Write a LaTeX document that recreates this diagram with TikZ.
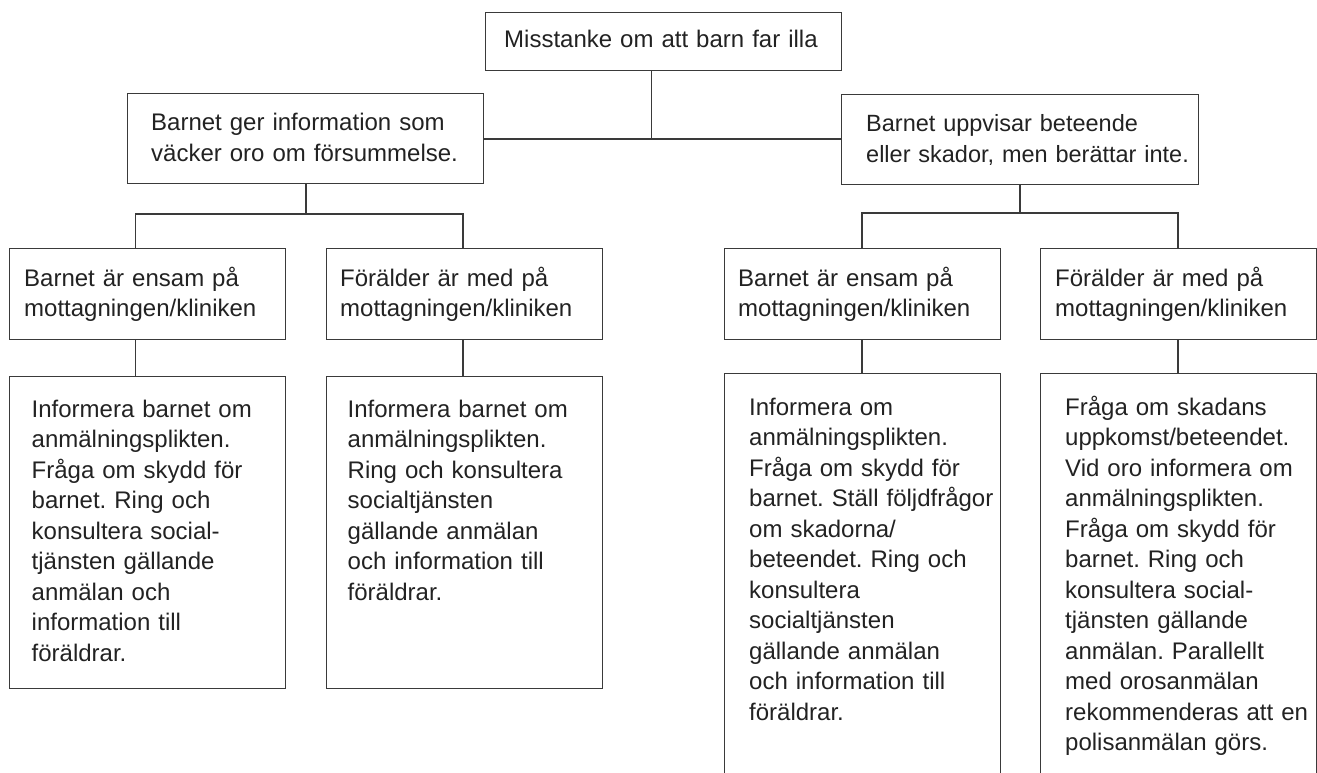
\documentclass[tikz,border=0pt]{standalone}
\usepackage{fontspec}
\setmainfont{Liberation Sans}
\definecolor{ln}{HTML}{3A3A3A}
\definecolor{tx}{HTML}{222222}
\begin{document}
\frenchspacing
\begin{tikzpicture}[x=1pt,y=-1pt,
  box/.style={draw=ln, line width=1.3pt, rectangle, inner sep=0pt, anchor=north west},
  txt/.style={text=tx, align=left, inner sep=0pt, anchor=base west},
  t32/.style={txt, font=\fontsize{24}{31.5}\selectfont\frenchspacing},
  t30/.style={txt, font=\fontsize{24}{29.5}\selectfont\frenchspacing},
  tb/.style={txt, font=\fontsize{24}{30.5}\selectfont\frenchspacing},
  link/.style={draw=ln, line width=1.3pt}]
\clip (0,0) rectangle (1317,772);
\path[use as bounding box] (0,0) rectangle (1317,772);
% boxes
\node[box, minimum width=356pt, minimum height=58pt] (top) at (485,12) {};
\node[box, minimum width=356pt, minimum height=90pt] (m1) at (127,93) {};
\node[box, minimum width=357pt, minimum height=90pt] (m2) at (841,94) {};
\node[box, minimum width=276pt, minimum height=91pt] (b1) at (9,248) {};
\node[box, minimum width=276pt, minimum height=91pt] (b2) at (326,248) {};
\node[box, minimum width=276.5pt, minimum height=91pt] (b3) at (723.5,248) {};
\node[box, minimum width=276pt, minimum height=91pt] (b4) at (1040,248) {};
\node[box, minimum width=276pt, minimum height=312pt] (c1) at (9,376) {};
\node[box, minimum width=276pt, minimum height=312pt] (c2) at (326,376) {};
\node[box, minimum width=276.5pt, minimum height=420pt] (c3) at (723.5,373) {};
\node[box, minimum width=276pt, minimum height=420pt] (c4) at (1040,373) {};
% texts
\node[t32, text width=330pt] (ttop) at (504,47.5) {Misstanke om att barn far illa};
\node[t32, text width=326pt] (tm1) at (151,130) {Barnet ger information som\\väcker oro om försummelse.};
\node[txt, font=\fontsize{23.5}{31.5}\selectfont\frenchspacing, text width=328pt] (tm2) at (866,131) {Barnet uppvisar beteende\\eller skador, men berättar inte.};
\node[t30, text width=258pt] (tb1) at (24,286.5) {Barnet är ensam på\\mottagningen/kliniken};
\node[t30, text width=258pt] (tb2) at (340,286.5) {Förälder är med på\\mottagningen/kliniken};
\node[t30, text width=258pt] (tb3) at (738,286.5) {Barnet är ensam på\\mottagningen/kliniken};
\node[t30, text width=258pt] (tb4) at (1055,286.5) {Förälder är med på\\mottagningen/kliniken};
\node[tb, text width=250pt] (tc1) at (31.5,417) {Informera barnet om\\anmälningsplikten.\\Fråga om skydd för\\barnet. Ring och\\konsultera social-\\tjänsten gällande\\anmälan och\\information till\\föräldrar.};
\node[tb, text width=250pt] (tc2) at (347.5,417) {Informera barnet om\\anmälningsplikten.\\Ring och konsultera\\socialtjänsten\\gällande anmälan\\och information till\\föräldrar.};
\node[tb, text width=249pt] (tc3) at (749,415) {Informera om\\anmälningsplikten.\\Fråga om skydd för\\barnet. Ställ följdfrågor\\om skadorna/\\beteendet. Ring och\\konsultera\\socialtjänsten\\gällande anmälan\\och information till\\föräldrar.};
\node[tb, text width=249pt] (tc4) at (1065,415) {Fråga om skadans\\uppkomst/beteendet.\\Vid oro informera om\\anmälningsplikten.\\Fråga om skydd för\\barnet. Ring och\\konsultera social-\\tjänsten gällande\\anmälan. Parallellt\\med orosanmälan\\rekommenderas att en\\polisanmälan görs.};
% connectors
\coordinate (j0) at (651.5,139);
\coordinate (jl) at (306,214);
\coordinate (kl1) at (135.5,214);
\coordinate (kl2) at (463,214);
\coordinate (jr) at (1020,213);
\coordinate (kr1) at (862,213);
\coordinate (kr2) at (1178,213);
\draw[link] (top.south -| j0) -- (j0);
\draw[link] (m1.east |- j0) -- (m2.west |- j0);
\draw[link] (m1.south -| jl) -- (jl);
\draw[link] (kl1 |- b1.north) -- (kl1) -- (kl2) -- (kl2 |- b2.north);
\draw[link] (m2.south -| jr) -- (jr);
\draw[link] (kr1 |- b3.north) -- (kr1) -- (kr2) -- (kr2 |- b4.north);
\draw[link] (kl1 |- b1.south) -- (kl1 |- c1.north);
\draw[link] (kl2 |- b2.south) -- (kl2 |- c2.north);
\draw[link] (kr1 |- b3.south) -- (kr1 |- c3.north);
\draw[link] (kr2 |- b4.south) -- (kr2 |- c4.north);
\end{tikzpicture}
\end{document}
